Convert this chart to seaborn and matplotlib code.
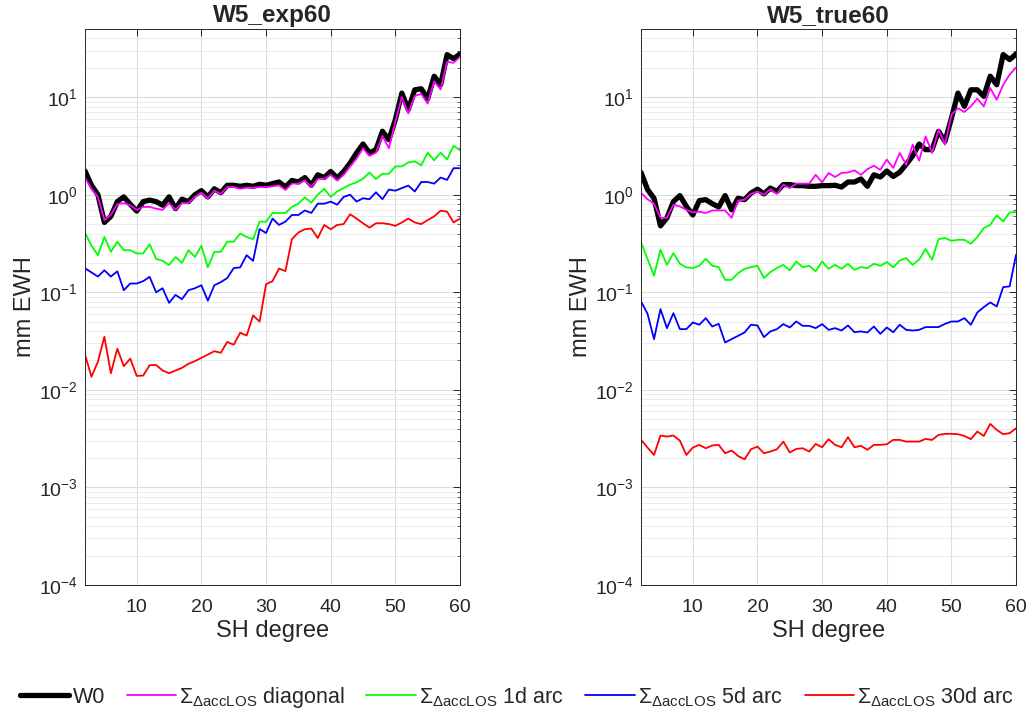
import numpy as np
import pandas as pd
import matplotlib
matplotlib.use("Agg")
import matplotlib.pyplot as plt
import seaborn as sns
from matplotlib.ticker import LogLocator, NullFormatter, FixedLocator

# SH degrees 2..60
degree = list(range(2, 61))

# ---- W5_exp60 ----
exp_w0 = [1.75, 1.25, 1.0, 0.52, 0.6, 0.85, 0.95, 0.8, 0.68, 0.85, 0.88, 0.85, 0.78, 0.95, 0.72,
          0.9, 0.85, 1.0, 1.1, 0.95, 1.15, 1.05, 1.25, 1.25, 1.22, 1.25, 1.22, 1.28, 1.25, 1.3,
          1.35, 1.2, 1.4, 1.35, 1.5, 1.25, 1.6, 1.5, 1.73, 1.48, 1.73, 2.11, 2.68, 3.31, 2.68,
          2.9, 4.47, 3.66, 5.9, 11.0, 7.45, 11.9, 12.2, 9.66, 16.4, 13.4, 27.3, 24.8, 27.7]
exp_diag = [1.5, 1.15, 0.95, 0.55, 0.62, 0.8, 0.82, 0.78, 0.7, 0.75, 0.75, 0.72, 0.7, 0.82, 0.7,
            0.82, 0.82, 0.95, 1.05, 0.92, 1.1, 1.02, 1.2, 1.2, 1.15, 1.18, 1.18, 1.2, 1.2, 1.22,
            1.25, 1.12, 1.3, 1.3, 1.4, 1.2, 1.45, 1.45, 1.6, 1.4, 1.6, 1.95, 2.35, 3.0, 2.5,
            2.7, 4.0, 3.0, 5.6, 10.0, 6.8, 10.3, 10.8, 8.6, 14.5, 12.0, 23.0, 22.5, 26.0]
exp_1d = [0.41, 0.30, 0.24, 0.37, 0.26, 0.33, 0.27, 0.27, 0.25, 0.25, 0.31, 0.22, 0.21, 0.19, 0.23,
          0.20, 0.27, 0.23, 0.30, 0.18, 0.26, 0.26, 0.33, 0.33, 0.40, 0.37, 0.35, 0.53, 0.53, 0.65,
          0.65, 0.65, 0.75, 0.81, 0.94, 0.83, 1.0, 1.15, 0.95, 1.08, 1.17, 1.27, 1.34, 1.46, 1.69,
          1.45, 1.64, 1.64, 1.95, 1.95, 2.14, 2.2, 2.0, 2.7, 2.25, 2.7, 2.3, 3.18, 2.85]
exp_5d = [0.176, 0.16, 0.145, 0.168, 0.145, 0.164, 0.105, 0.123, 0.123, 0.13, 0.144, 0.10, 0.11,
          0.078, 0.094, 0.085, 0.105, 0.11, 0.118, 0.082, 0.118, 0.127, 0.14, 0.177, 0.18, 0.24,
          0.21, 0.445, 0.405, 0.57, 0.49, 0.53, 0.62, 0.62, 0.69, 0.65, 0.81, 0.81, 0.85, 0.79,
          0.95, 1.0, 0.85, 0.92, 0.90, 1.06, 0.90, 1.13, 1.1, 1.17, 1.24, 1.08, 1.35, 1.35, 1.3,
          1.5, 1.42, 1.87, 1.87]
exp_30d = [0.023, 0.0136, 0.0195, 0.035, 0.0148, 0.0264, 0.0175, 0.0209, 0.0139, 0.014, 0.0179,
           0.018, 0.0158, 0.0148, 0.0158, 0.0168, 0.0185, 0.0197, 0.0213, 0.023, 0.0249, 0.024,
           0.031, 0.029, 0.0385, 0.036, 0.058, 0.050, 0.121, 0.13, 0.175, 0.165, 0.35, 0.41, 0.443,
           0.45, 0.36, 0.49, 0.443, 0.49, 0.5, 0.63, 0.57, 0.51, 0.46, 0.51, 0.51, 0.5, 0.48, 0.52,
           0.57, 0.52, 0.5, 0.55, 0.60, 0.686, 0.67, 0.52, 0.57]

# ---- W5_true60 ----
true_w0 = [1.69, 1.13, 0.92, 0.48, 0.58, 0.85, 0.98, 0.76, 0.62, 0.87, 0.89, 0.81, 0.75, 0.98, 0.70,
           0.92, 0.89, 1.04, 1.14, 1.02, 1.17, 1.08, 1.27, 1.27, 1.24, 1.24, 1.22, 1.22, 1.24, 1.24,
           1.25, 1.20, 1.35, 1.35, 1.45, 1.22, 1.60, 1.52, 1.75, 1.54, 1.70, 2.05, 2.5, 3.31, 2.9,
           2.9, 4.47, 3.52, 6.1, 11.0, 8.05, 11.9, 11.9, 10.2, 16.4, 13.4, 27.3, 24.3, 27.7]
true_diag = [1.04, 0.90, 0.81, 0.58, 0.58, 0.79, 0.76, 0.70, 0.66, 0.67, 0.65, 0.69, 0.69, 0.69, 0.58,
             0.87, 0.89, 1.02, 1.08, 1.0, 1.14, 1.02, 1.27, 1.17, 1.30, 1.30, 1.30, 1.60, 1.34, 1.67,
             1.52, 1.67, 1.69, 1.78, 1.60, 1.83, 1.98, 1.80, 2.29, 1.88, 2.68, 2.03, 3.26, 2.23, 3.96,
             2.68, 4.64, 3.26, 6.6, 7.7, 7.05, 8.05, 9.66, 8.05, 12.4, 9.42, 13.4, 17.0, 20.2]
true_1d = [0.324, 0.219, 0.148, 0.273, 0.191, 0.252, 0.196, 0.180, 0.177, 0.187, 0.221, 0.187, 0.181,
           0.134, 0.134, 0.157, 0.174, 0.181, 0.187, 0.140, 0.161, 0.177, 0.191, 0.168, 0.207, 0.181,
           0.187, 0.164, 0.207, 0.174, 0.191, 0.174, 0.196, 0.170, 0.181, 0.177, 0.196, 0.187, 0.204,
           0.180, 0.212, 0.224, 0.191, 0.216, 0.277, 0.216, 0.351, 0.360, 0.337, 0.345, 0.345, 0.314,
           0.368, 0.455, 0.492, 0.614, 0.532, 0.659, 0.664]
true_5d = [0.0805, 0.0602, 0.0331, 0.0672, 0.0429, 0.0611, 0.0419, 0.0419, 0.0491, 0.0465, 0.0543,
           0.0446, 0.0475, 0.0306, 0.0331, 0.0358, 0.0387, 0.0465, 0.0457, 0.0347, 0.0397, 0.0419,
           0.0472, 0.0436, 0.0502, 0.0453, 0.0453, 0.0429, 0.0472, 0.0412, 0.0429, 0.0406, 0.0457,
           0.0390, 0.0397, 0.0387, 0.0446, 0.0375, 0.0436, 0.0390, 0.0465, 0.0412, 0.0406, 0.0412,
           0.0440, 0.0440, 0.0440, 0.0475, 0.0502, 0.0502, 0.0543, 0.0465, 0.0621, 0.0705, 0.0787,
           0.0716, 0.113, 0.115, 0.243]
true_30d = [0.00307, 0.00256, 0.00215, 0.00340, 0.00332, 0.00340, 0.00302, 0.00215, 0.00256, 0.00273,
            0.00252, 0.00269, 0.00273, 0.00224, 0.00239, 0.00210, 0.00194, 0.00246, 0.00262, 0.00224,
            0.00233, 0.00246, 0.00295, 0.00228, 0.00248, 0.00252, 0.00233, 0.00279, 0.00258, 0.00312,
            0.00273, 0.00258, 0.00327, 0.00258, 0.00267, 0.00243, 0.00273, 0.00273, 0.00277, 0.00307,
            0.00307, 0.00295, 0.00295, 0.00295, 0.00314, 0.00307, 0.00345, 0.00354, 0.00354, 0.00351,
            0.00337, 0.00312, 0.00374, 0.00337, 0.00448, 0.00389, 0.00351, 0.00360, 0.00404]

titles = ["W5_exp60", "W5_true60"]
labels = ["W0",
          r"$\Sigma_{\Delta\mathrm{accLOS}}$ diagonal",
          r"$\Sigma_{\Delta\mathrm{accLOS}}$ 1d arc",
          r"$\Sigma_{\Delta\mathrm{accLOS}}$ 5d arc",
          r"$\Sigma_{\Delta\mathrm{accLOS}}$ 30d arc"]
colors = ["black", "#ff00ff", "#00ff00", "#0000ff", "#ff0000"]
widths = [3.8, 1.3, 1.3, 1.3, 1.3]

panels = [[exp_w0, exp_diag, exp_1d, exp_5d, exp_30d],
          [true_w0, true_diag, true_1d, true_5d, true_30d]]

sns.set_style("white")
plt.rcParams["font.family"] = ["Liberation Sans", "DejaVu Sans"]
plt.rcParams["mathtext.fontset"] = "custom"
plt.rcParams["mathtext.rm"] = "Liberation Sans"
plt.rcParams["mathtext.it"] = "Liberation Sans:italic"
plt.rcParams["mathtext.bf"] = "Liberation Sans:bold"
plt.rcParams["mathtext.sf"] = "Liberation Sans"

fig = plt.figure(figsize=(10.34, 7.19), dpi=100)
ax_l = fig.add_axes([0.0822, 0.1864, 0.3627, 0.7733])
ax_r = fig.add_axes([0.620, 0.1864, 0.3627, 0.7733])

for ax, series, title in zip([ax_l, ax_r], panels, titles):
    for vals, lab, c, w in zip(series, labels, colors, widths):
        df = pd.DataFrame({"degree": degree, "value": vals})
        sns.lineplot(data=df, x="degree", y="value", ax=ax, color=c, lw=w, label=lab)
    if ax.get_legend() is not None:
        ax.get_legend().remove()
    ax.set_yscale("log")
    ax.set_xlim(2, 60)
    ax.set_ylim(1e-4, 50)
    ax.xaxis.set_major_locator(FixedLocator([10, 20, 30, 40, 50, 60]))
    ax.yaxis.set_major_locator(LogLocator(base=10, numticks=10))
    ax.yaxis.set_minor_locator(LogLocator(base=10, subs=np.arange(2, 10), numticks=20))
    ax.yaxis.set_minor_formatter(NullFormatter())
    ax.grid(True, which="major", color="#dcdcdc", lw=0.8)
    ax.grid(True, which="minor", axis="y", color="#e8e8e8", lw=0.6)
    ax.tick_params(which="both", direction="in", top=True, right=True,
                   labelsize=14, colors="#262626")
    ax.tick_params(which="major", length=5, width=0.7)
    ax.tick_params(which="minor", length=2.5, width=0.5)
    ax.tick_params(axis="x", pad=10)
    ax.tick_params(axis="y", pad=5)
    for sp in ax.spines.values():
        sp.set_color("#262626")
        sp.set_linewidth(0.7)
    ax.set_title(title, fontsize=17.5, fontweight="bold", pad=5)
    ax.set_xlabel("SH degree", fontsize=17, color="#262626", labelpad=3)
    ax.set_ylabel("mm EWH", fontsize=17, color="#262626", labelpad=2)

handles, labs = ax_l.get_legend_handles_labels()
fig.legend(handles, labs, loc="center", bbox_to_anchor=(0.5, 0.03), ncol=5, frameon=False,
           fontsize=15.5, handlelength=2.3, handletextpad=0.15, columnspacing=1.0)

fig.savefig("out.png", dpi=100)
